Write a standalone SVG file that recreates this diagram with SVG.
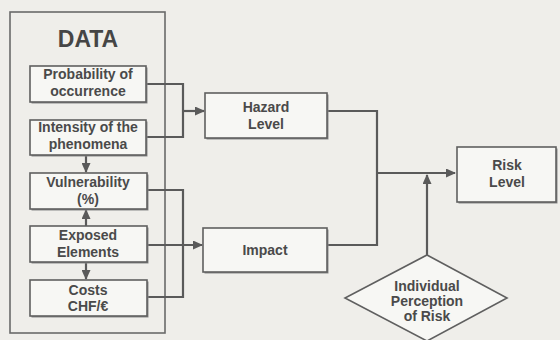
<svg xmlns="http://www.w3.org/2000/svg" width="560" height="340" viewBox="0 0 560 340">
<style>
.bg{fill:#efeeea}
.box{fill:#f7f7f4;stroke:#5f5f5f;stroke-width:1.6}
.sh{fill:#8a8a8a}
.frame{fill:none;stroke:#6a6a6a;stroke-width:1.6}
.ln{fill:none;stroke:#5a5a5a;stroke-width:2.2}
text{font-family:"Liberation Sans",Arial,sans-serif;font-weight:bold;fill:#4a4a4a;text-anchor:middle}
.t{font-size:14px}
.h{font-size:23px;fill:#454545}
</style>
<defs>
<marker id="ah" markerUnits="userSpaceOnUse" markerWidth="10" markerHeight="9" refX="9" refY="4.5" orient="auto">
<path d="M0,0 L10,4.5 L0,9 z" fill="#5a5a5a"/>
</marker>
</defs>
<rect class="bg" x="0" y="0" width="560" height="340"/>
<g id="data">
<rect class="frame" x="10" y="12" width="155" height="321"/>
<text class="h" x="88" y="47">DATA</text>
</g>
<g id="connectors">
<path class="ln" d="M146,84 H183 V137 H146"/>
<path class="ln" d="M183,111 H204" marker-end="url(#ah)"/>
<path class="ln" d="M147,190 H183 V297 H147"/>
<path class="ln" d="M147,245 H202" marker-end="url(#ah)"/>
<path class="ln" d="M86,155 V172" marker-end="url(#ah)"/>
<path class="ln" d="M86,226 V210" marker-end="url(#ah)"/>
<path class="ln" d="M86,262 V279" marker-end="url(#ah)"/>
<path class="ln" d="M327,111 H377 V245 H327"/>
<path class="ln" d="M377,173 H455" marker-end="url(#ah)"/>
<path class="ln" d="M427,255 V175" marker-end="url(#ah)"/>
</g>
<g id="probability">
<rect class="sh" x="31.5" y="67.5" width="116" height="36"/>
<rect class="box" x="30" y="66" width="116" height="36"/>
<text class="t" x="88" y="79">Probability of</text>
<text class="t" x="88" y="96">occurrence</text>
</g>
<g id="intensity">
<rect class="sh" x="31.5" y="121.5" width="116" height="35"/>
<rect class="box" x="30" y="120" width="116" height="35"/>
<text class="t" x="88" y="132">Intensity of the</text>
<text class="t" x="88" y="149">phenomena</text>
</g>
<g id="vulnerability">
<rect class="sh" x="31.5" y="174.5" width="117" height="36"/>
<rect class="box" x="30" y="173" width="117" height="36"/>
<text class="t" x="88" y="187">Vulnerability</text>
<text class="t" x="88" y="204">(%)</text>
</g>
<g id="exposed">
<rect class="sh" x="31.5" y="227.5" width="117" height="36"/>
<rect class="box" x="30" y="226" width="117" height="36"/>
<text class="t" x="88" y="240">Exposed</text>
<text class="t" x="88" y="257">Elements</text>
</g>
<g id="costs">
<rect class="sh" x="31.5" y="281.5" width="117" height="36"/>
<rect class="box" x="30" y="280" width="117" height="36"/>
<text class="t" x="88" y="295">Costs</text>
<text class="t" x="88" y="311">CHF/€</text>
</g>
<g id="hazard">
<rect class="sh" x="206.5" y="94.5" width="122" height="45"/>
<rect class="box" x="205" y="93" width="122" height="45"/>
<text class="t" x="266" y="112">Hazard</text>
<text class="t" x="266" y="129">Level</text>
</g>
<g id="impact">
<rect class="sh" x="204.5" y="229.5" width="124" height="44"/>
<rect class="box" x="203" y="228" width="124" height="44"/>
<text class="t" x="265" y="255">Impact</text>
</g>
<g id="risk">
<rect class="sh" x="458.5" y="148.5" width="99" height="55"/>
<rect class="box" x="457" y="147" width="99" height="55"/>
<text class="t" x="507" y="170">Risk</text>
<text class="t" x="507" y="187">Level</text>
</g>
<g id="perception">
<path class="box" d="M427,255 L507,298 L427,341 L345,298 Z"/>
<text class="t" x="427" y="291">Individual</text>
<text class="t" x="427" y="306">Perception</text>
<text class="t" x="427" y="321">of Risk</text>
</g>
</svg>
